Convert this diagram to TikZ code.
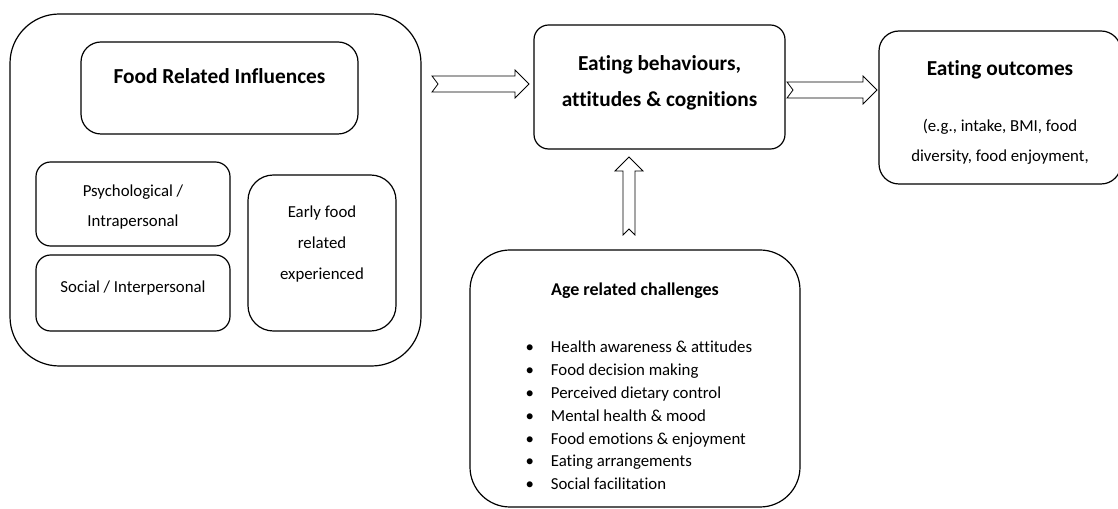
\documentclass[tikz,border=0pt]{standalone}
\usepackage{fontspec}
\setmainfont[Ligatures=NoCommon]{Carlito}
\usetikzlibrary{positioning,calc}

\tikzset{
  box/.style={draw, line width=0.9pt, rounded corners=#1},
  box/.default=11pt,
  txt/.style={align=center, font=\fontsize{12.6}{22.5}\selectfont},
  ttl/.style={align=center, font=\fontsize{16}{27}\selectfont\bfseries},
  fatarrow/.style={draw, line width=0.6pt, fill=white, line join=miter}
}
% block arrows with a notched tail
\newcommand\harrow[2]{%
  \draw[fatarrow] ($(#1)+(0,-8)$) -- ($(#2)+(-14,-8)$) -- ($(#2)+(-14,-14)$) -- (#2)
    -- ($(#2)+(-14,14)$) -- ($(#2)+(-14,8)$) -- ($(#1)+(0,8)$) -- ($(#1)+(6,0)$) -- cycle;}
\newcommand\uarrow[2]{%
  \draw[fatarrow] ($(#1)+(-6,0)$) -- ($(#2)+(-6,14)$) -- ($(#2)+(-14,14)$) -- (#2)
    -- ($(#2)+(14,14)$) -- ($(#2)+(6,14)$) -- ($(#1)+(6,0)$) -- ($(#1)+(0,-6)$) -- cycle;}

\begin{document}
\begin{tikzpicture}[x=0.75pt, y=-0.75pt]
  \useasboundingbox (0,0) rectangle (1118,509);
  \clip (0,0) rectangle (1118,509);

  % food related influences
  \node[box=37pt, minimum width=308.25pt, minimum height=264pt] (outer) at (215.5,190) {};
  \node[box=15pt, minimum width=207.75pt, minimum height=69pt] (infl) at (219.5,88) {};
  \node[ttl] (infltxt) at ($(infl.north)+(0,35)$) {Food Related Influences};
  \node[box, minimum width=145.5pt, minimum height=63pt] (psych) at (133,204) {};
  \node[txt] (psychtxt) at ($(psych.north)+(0,46)$) {Psychological /\\Intrapersonal};
  \node[box, minimum width=145.5pt, minimum height=57pt] (social) at (133,293) {};
  \node[txt] (socialtxt) at ($(social.north)+(0,34)$) {Social / Interpersonal};
  \node[box=19pt, minimum width=111pt, minimum height=117pt] (early) at (322,253) {};
  \node[txt, font=\fontsize{12.6}{23.25}\selectfont] (earlytxt) at ($(early.north)+(0,70)$) {Early food\\related\\experienced};

  % eating behaviours and outcomes
  \node[box, minimum width=188.25pt, minimum height=93pt] (ebac) at (659.5,87) {};
  \node[ttl] (ebactxt) at ($(ebac.north)+(0,58)$) {Eating behaviours,\\attitudes \& cognitions};
  \node[box=15pt, minimum width=181.5pt, minimum height=114.75pt] (outcome) at (1000,107.5) {};
  \node[ttl] (outcometxt) at ($(outcome.north)+(0,39)$) {Eating outcomes};
  \node[txt] (outcomeex) at ($(outcome.north)+(0,111)$) {(e.g., intake, BMI, food\\diversity, food enjoyment,};

  % age related challenges
  \node[box=30pt, minimum width=247.5pt, minimum height=192.75pt] (age) at (635,378.5) {};
  \node[txt, font=\fontsize{13.5}{16}\selectfont\bfseries] (agetxt) at ($(age.north)+(0,41)$) {Age related challenges};
  \node[txt, align=left, anchor=north west, inner sep=0pt, font=\fontsize{12.6}{17.1}\selectfont] (agelist) at (522,341) {%
    \makebox[21.5pt][l]{\hspace{2.5pt}•}Health awareness \& attitudes\\
    \makebox[21.5pt][l]{\hspace{2.5pt}•}Food decision making\\
    \makebox[21.5pt][l]{\hspace{2.5pt}•}Perceived dietary control\\
    \makebox[21.5pt][l]{\hspace{2.5pt}•}Mental health \& mood\\
    \makebox[21.5pt][l]{\hspace{2.5pt}•}Food emotions \& enjoyment\\
    \makebox[21.5pt][l]{\hspace{2.5pt}•}Eating arrangements\\
    \makebox[21.5pt][l]{\hspace{2.5pt}•}Social facilitation};

  % connectors
  \coordinate (a1s) at (432,84);
  \coordinate (a1e) at (529,84);
  \coordinate (a2s) at (787,90);
  \coordinate (a2e) at (877,90);
  \coordinate (a3s) at (629,235);
  \coordinate (a3e) at (629,157);
  \harrow{a1s}{a1e}
  \harrow{a2s}{a2e}
  \uarrow{a3s}{a3e}
\end{tikzpicture}
\end{document}
